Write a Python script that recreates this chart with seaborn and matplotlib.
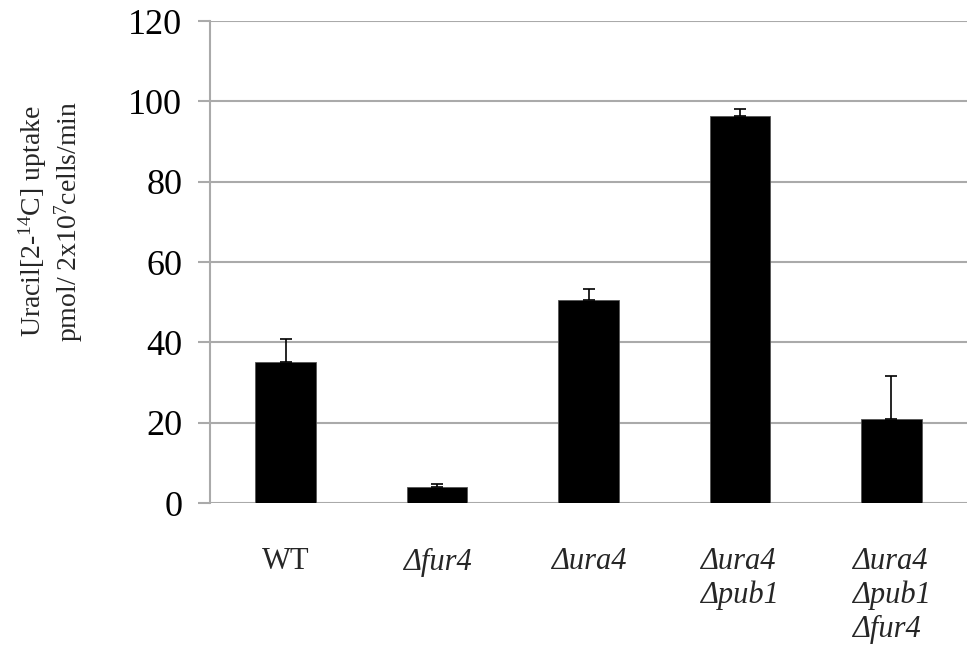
import matplotlib
matplotlib.use("Agg")
import matplotlib.pyplot as plt
import seaborn as sns
import numpy as np
import pandas as pd

categories = ["WT", "\u0394fur4", "\u0394ura4", "\u0394ura4\n\u0394pub1", "\u0394ura4\n\u0394pub1\n\u0394fur4"]
values = [35.2, 4.1, 50.5, 96.4, 20.9]
errors = [5.6, 0.6, 2.8, 1.6, 10.8]
yticks = [0, 20, 40, 60, 80, 100, 120]

sns.set_theme(style="white")
plt.rcParams['font.family'] = ['Liberation Serif', 'DejaVu Serif']
plt.rcParams['mathtext.fontset'] = 'custom'
plt.rcParams['mathtext.rm'] = 'Liberation Serif'
plt.rcParams['mathtext.it'] = 'Liberation Serif:italic'

fig = plt.figure(figsize=(9.69, 6.51), dpi=100)
ax = fig.add_axes([0.2167, 0.2273, 0.7813, 0.7404])

df = pd.DataFrame({"cat": categories, "val": values})
sns.barplot(data=df, x="cat", y="val", color="black", width=0.4, ax=ax,
            edgecolor="#555555", linewidth=0.6, zorder=3, errorbar=None)
xs = np.arange(len(categories))
ax.errorbar(xs, values, yerr=[np.zeros(len(errors)), errors], fmt="none",
            ecolor="black", elinewidth=1.2, capsize=4.5, capthick=1.2, zorder=4)

ax.set_ylim(0, 120)
ax.set_yticks(yticks)
ax.set_xlim(-0.5, len(categories) - 0.5)
ax.yaxis.grid(True, color="#AAAAAA", linewidth=1.5, zorder=0)
ax.set_axisbelow(True)
for s in ["top", "right", "bottom"]:
    ax.spines[s].set_visible(False)
ax.spines["left"].set_color("#AAAAAA")
ax.spines["left"].set_linewidth(1.5)
ax.tick_params(axis="y", which="both", left=True, length=9, width=1.5, color="#AAAAAA",
               labelsize=26, pad=11, labelcolor="black")
ax.tick_params(axis="x", bottom=False, labelsize=22, pad=26)
ax.set_xlabel("")
ax.set_ylabel("Uracil[2-$^{14}$C] uptake\npmol/ 2x10$^{7}$cells/min", fontsize=20,
              linespacing=1.15)
ax.yaxis.set_label_coords(-0.165, 0.585)
for i, lab in enumerate(ax.get_xticklabels()):
    if i > 0:
        lab.set_fontstyle("italic")
    lab.set_multialignment("left")
    lab.set_verticalalignment("top")

fig.savefig("out.png", dpi=100)
